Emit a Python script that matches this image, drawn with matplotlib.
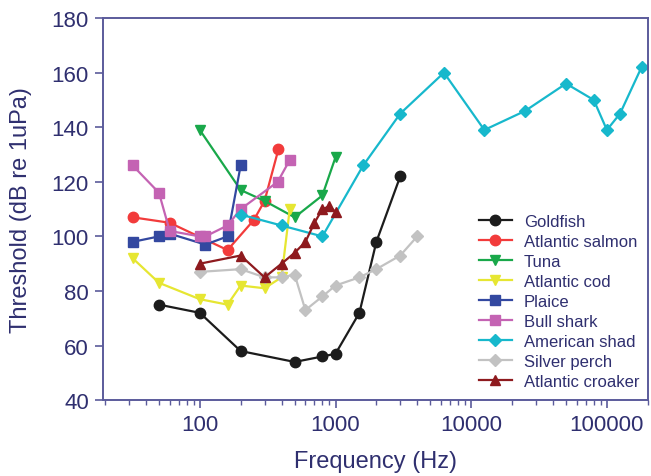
import numpy as np
import matplotlib
matplotlib.use('Agg')
import matplotlib.pyplot as plt
from matplotlib.ticker import LogLocator, FixedLocator, NullFormatter

plt.rcParams['font.family'] = ['Liberation Sans', 'DejaVu Sans']

# data (frequency in Hz, threshold in dB re 1uPa)
goldfish_f = [50, 100, 200, 500, 800, 1000, 1500, 2000, 3000]
goldfish_t = [75, 72, 58, 54, 56, 57, 72, 98, 122]

salmon_f = [32, 60, 160, 250, 300, 380]
salmon_t = [107, 105, 95, 106, 113, 132]

tuna_f = [100, 200, 300, 500, 800, 1000]
tuna_t = [139, 117, 113, 107, 115, 129]

cod_f = [32, 50, 100, 160, 200, 300, 400, 460]
cod_t = [92, 83, 77, 75, 82, 81, 85, 110]

plaice_f = [32, 50, 60, 110, 160, 200]
plaice_t = [98, 100, 101, 97, 100, 126]

shark_f = [32, 50, 60, 100, 110, 160, 200, 375, 460]
shark_t = [126, 116, 102, 100, 100, 104, 110, 120, 128]

shad_f = [200, 400, 800, 1600, 3000, 6300, 12500, 25000, 50000, 80000, 100000, 125000, 180000]
shad_t = [108, 104, 100, 126, 145, 160, 139, 146, 156, 150, 139, 145, 162]

perch_f = [100, 200, 300, 400, 500, 600, 800, 1000, 1500, 2000, 3000, 4000]
perch_t = [87, 88, 85, 85, 86, 73, 78, 82, 85, 88, 93, 100]

croaker_f = [100, 200, 300, 400, 500, 600, 700, 800, 900, 1000]
croaker_t = [90, 93, 85, 90, 94, 98, 105, 110, 111, 109]

series = [
    ('Goldfish', goldfish_f, goldfish_t, '#1c1c1c', 'o'),
    ('Atlantic salmon', salmon_f, salmon_t, '#f23b3b', 'o'),
    ('Tuna', tuna_f, tuna_t, '#19a84a', 'v'),
    ('Atlantic cod', cod_f, cod_t, '#e6e632', 'v'),
    ('Plaice', plaice_f, plaice_t, '#3348a0', 's'),
    ('Bull shark', shark_f, shark_t, '#c463b3', 's'),
    ('American shad', shad_f, shad_t, '#17b8cc', 'D'),
    ('Silver perch', perch_f, perch_t, '#c2c2c2', 'D'),
    ('Atlantic croaker', croaker_f, croaker_t, '#8e1a1e', '^'),
]

txt = '#2f2f6f'
frame = '#5b5b9b'

fig = plt.figure(figsize=(6.51, 4.77), dpi=100)
ax = fig.add_axes([0.158, 0.159, 0.837, 0.801])

for name, f, t, c, m in series:
    ms = 6 if m == 'D' else 7.5
    ax.plot(f, t, color=c, marker=m, markersize=ms, linewidth=1.6, label=name)

ax.set_xscale('log')
ax.set_xlim(19.3, 200000)
ax.set_ylim(40, 180)
ax.yaxis.set_major_locator(FixedLocator([40, 60, 80, 100, 120, 140, 160, 180]))
ax.xaxis.set_major_locator(FixedLocator([100, 1000, 10000, 100000]))
ax.set_xticklabels(['100', '1000', '10000', '100000'])
ax.xaxis.set_minor_locator(LogLocator(base=10, subs=np.arange(2, 10)))
ax.xaxis.set_minor_formatter(NullFormatter())

ax.tick_params(axis='both', which='major', direction='out', length=6, width=1.2,
               colors=frame, labelcolor=txt, labelsize=16, pad=4)
ax.tick_params(axis='x', which='minor', direction='out', length=3.5, width=1, colors=frame)
for s in ax.spines.values():
    s.set_color(frame)
    s.set_linewidth(1.4)

ax.set_xlabel('Frequency (Hz)', fontsize=17, color=txt, labelpad=11)
ax.set_ylabel('Threshold (dB re 1uPa)', fontsize=17, color=txt, labelpad=14)

leg = ax.legend(loc='lower right', bbox_to_anchor=(1.012, -0.01), frameon=False,
                fontsize=12, handlelength=2.0, handletextpad=0.7, labelspacing=0.3)
for t in leg.get_texts():
    t.set_color(txt)

fig.savefig('out.png', dpi=100)
